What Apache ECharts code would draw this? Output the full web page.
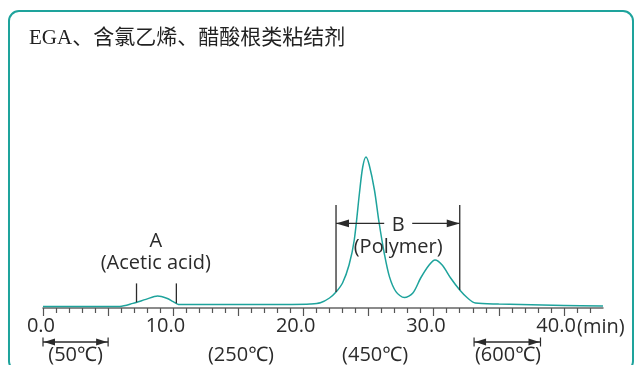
<!DOCTYPE html>
<html>
<head>
<meta charset="utf-8">
<script src="https://cdn.jsdelivr.net/npm/echarts@6/dist/echarts.min.js"></script>
<style>
  html, body { margin: 0; padding: 0; background: #fff; }
  #chart { width: 634px; height: 365px; }
</style>
</head>
<body>
<div id="chart"></div>
<script>
// Retention time (min) and detector signal of the evolved-gas trace
const minutes = [0, 4, 5.9, 6.9, 7.9, 8.8, 9.5, 10.0, 10.4, 11.0, 15.0, 19.0, 20.5, 21.3, 22.0, 22.5,
  23.0, 23.5, 23.9, 24.3, 24.55, 24.8, 25.05, 25.45, 25.8, 26.2, 26.6, 27.1, 27.75, 28.4, 29.0,
  29.65, 30.1, 30.65, 31.3, 32.0, 32.6, 33.2, 35.0, 40.0, 43.0];
const signal = [0.7, 0.7, 0.8, 2.3, 4.3, 6.0, 4.9, 3.2, 1.8, 1.7, 1.7, 1.8, 2.0, 2.6, 5.0, 8.0,
  12.5, 21.5, 34, 57.5, 70.5, 75.5, 71.5, 59, 43, 27.5, 15.7, 8.2, 5.2, 7.5, 15,
  21.5, 24, 21.5, 15, 9, 5, 2.5, 2.0, 1.3, 1.0];

// Axis ticks
const majorTicks = [0, 5, 10, 15, 20, 25, 30, 35, 40];
const minorTicks = [1, 2, 3, 4, 6, 7, 8, 9, 11, 12, 13, 14, 16, 17, 18, 19, 21, 22, 23, 24,
  26, 27, 28, 29, 31, 32, 33, 34, 36, 37, 38, 39, 41, 42];
const tickLabels = [0, 10, 20, 30, 40];

// Fractions and their time windows
const peakA = { name: 'A', sub: '(Acetic acid)', from: 7.18, to: 10.24 };
const peakB = { name: 'B', sub: '(Polymer)', from: 22.5, to: 32.0 };

// Oven temperature program
const tempLabels = ['(50℃)', '(250℃)', '(450℃)', '(600℃)'];
const tempLabelAt = [2.5, 15.2, 25.5, 35.7];
const holdRanges = [[0, 5], [33.1, 38.2]];

const TITLE = 'EGA、含氯乙烯、醋酸根类粘结剂';
const TEAL = '#1ea39c';
const INK = '#2b2b2b';
const SANS = "'Open Sans', 'Noto Sans', 'Noto Sans CJK SC', sans-serif";

const chart = echarts.init(document.getElementById('chart'), null, { renderer: 'canvas' });

const axisBase = {
  type: 'value', min: 0, max: 43, position: 'bottom',
  splitLine: { show: false }
};

chart.setOption({
  animation: false,
  grid: { left: 43, right: 31, top: 108, bottom: 57 },
  xAxis: [
    Object.assign({}, axisBase, {
      axisLine: { show: true, lineStyle: { color: '#666', width: 1.5 } },
      axisTick: { show: true, customValues: majorTicks, length: 8, lineStyle: { color: '#555', width: 1.2 } },
      axisLabel: {
        show: true, customValues: tickLabels, margin: 8,
        formatter: v => v.toFixed(1),
        color: INK, fontSize: 20, fontFamily: SANS,
        align: 'right', padding: [0, -12, 0, 0]
      }
    }),
    Object.assign({}, axisBase, {
      axisLine: { show: false },
      axisTick: { show: true, customValues: minorTicks, length: 5, lineStyle: { color: '#555', width: 1.2 } },
      axisLabel: { show: false }
    })
  ],
  yAxis: { type: 'value', min: 0, max: 100, show: false },
  series: [{
    type: 'line',
    xAxisIndex: 0,
    data: minutes.map((t, i) => [t, signal[i]]),
    symbol: 'none',
    smooth: 0.3,
    lineStyle: { color: TEAL, width: 1.5 },
    z: 5
  }]
});

// Signal value on the trace at a given time (linear between samples)
function signalAt(t) {
  for (let i = 1; i < minutes.length; i++) {
    if (t <= minutes[i]) {
      const f = (t - minutes[i - 1]) / (minutes[i] - minutes[i - 1]);
      return signal[i - 1] + f * (signal[i] - signal[i - 1]);
    }
  }
  return signal[signal.length - 1];
}

const px = (t, s) => chart.convertToPixel({ xAxisIndex: 0, yAxisIndex: 0 }, [t, s]);

function line(a, b, w) {
  return { type: 'line', shape: { x1: a[0], y1: a[1], x2: b[0], y2: b[1] },
    style: { stroke: INK, lineWidth: w || 1.3 }, z: 10 };
}
function head(tip, dir, len, half) {
  // filled arrow head pointing along dir (+1 right, -1 left)
  return { type: 'polygon', shape: { points: [
      [tip[0], tip[1]], [tip[0] - dir * len, tip[1] - half], [tip[0] - dir * len, tip[1] + half]] },
    style: { fill: INK }, z: 10 };
}
function text(str, p, size, extra) {
  return Object.assign({ type: 'text', z: 10, style: {
    text: str, x: p[0], y: p[1], fill: INK, fontSize: size || 20, fontFamily: SANS,
    align: 'center', verticalAlign: 'middle' } }, extra || {});
}

const g = [];

// frame and title
g.push({ type: 'rect', shape: { x: 9, y: 11, width: 624, height: 360, r: 10 },
  style: { fill: null, stroke: TEAL, lineWidth: 2 }, z: 1 });
g.push({ type: 'text', z: 10, style: { text: TITLE, x: 29, y: 38, fill: '#222', fontSize: 21,
  fontFamily: "'Liberation Serif', 'Noto Sans CJK SC', serif", verticalAlign: 'middle' } });

// x axis unit
const end40 = px(40, 0);
g.push({ type: 'text', z: 10, style: { text: '(min)', x: 577, y: end40[1] + 19, fill: INK,
  fontSize: 20, fontFamily: SANS, verticalAlign: 'middle' } });

// fraction A: two markers and its label
[peakA.from, peakA.to].forEach(t => g.push(line(px(t, 12.3), px(t, signalAt(t)))));
g.push(text(peakA.name, px((peakA.from + peakA.to) / 2 - 0.05, 33.2)));
g.push(text(peakA.sub, px((peakA.from + peakA.to) / 2 - 0.05, 22.5)));

// fraction B: markers, arrows and label
[peakB.from, peakB.to].forEach(t => g.push(line(px(t, 51.5), px(t, signalAt(t)))));
const bl = px(peakB.from, 42.3), br = px(peakB.to, 42.3);
g.push(line(bl, px(26.2, 42.3)));
g.push(line(px(28.35, 42.3), br));
g.push(head(bl, -1, 13, 3.8));
g.push(head(br, 1, 13, 3.8));
g.push(text(peakB.name, px(27.27, 41.6)));
g.push(text(peakB.sub, px(27.27, 30.5)));

// temperature program below the axis
holdRanges.forEach(r => {
  const a = px(r[0], -17), b = px(r[1], -17);
  g.push(line(a, b));
  g.push(line([a[0], a[1] - 4.5], [a[0], a[1] + 4.5], 1.2));
  g.push(line([b[0], b[1] - 4.5], [b[0], b[1] + 4.5], 1.2));
  g.push(head([a[0] + 1, a[1]], -1, 11, 3.5));
  g.push(head([b[0] - 1, b[1]], 1, 11, 3.5));
});
tempLabels.forEach((s, i) => g.push(text(s, px(tempLabelAt[i], -23.8))));

chart.setOption({ graphic: { elements: g } });
</script>
</body>
</html>
